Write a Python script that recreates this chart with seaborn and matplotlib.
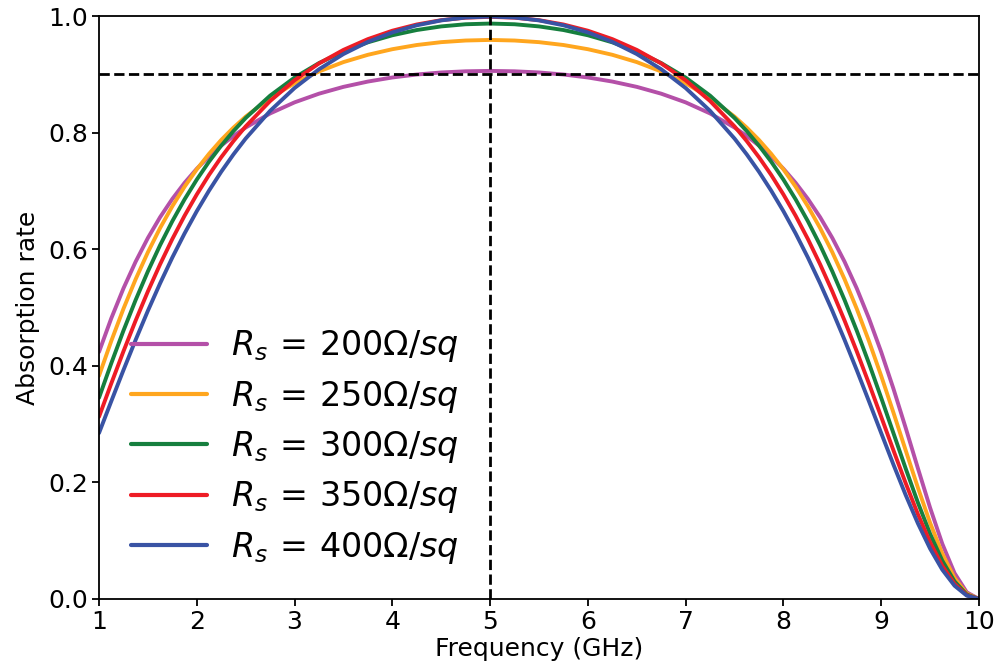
import matplotlib
matplotlib.use("Agg")
import matplotlib.pyplot as plt
import seaborn as sns
import pandas as pd

freq = [1.0, 1.125, 1.25, 1.375, 1.5, 1.625, 1.75, 1.875, 2.0, 2.125, 2.25, 2.375, 2.5,
        2.75, 3.0, 3.25, 3.5, 3.75, 4.0, 4.25, 4.5, 4.75, 5.0, 5.25, 5.5, 5.75, 6.0,
        6.25, 6.5, 6.75, 7.0, 7.25,
        7.5, 7.625, 7.75, 7.875, 8.0, 8.125, 8.25, 8.375, 8.5, 8.625, 8.75, 8.875, 9.0,
        9.125, 9.25, 9.375, 9.5, 9.625, 9.75, 9.875, 10.0]

a_200 = [0.4237, 0.4812, 0.5328, 0.5787, 0.6193, 0.6550, 0.6863, 0.7138, 0.7380, 0.7591, 0.7778, 0.7942, 0.8087,
         0.8329, 0.8519, 0.8668, 0.8785, 0.8876, 0.8946, 0.8997, 0.9032, 0.9052, 0.9059, 0.9052, 0.9032, 0.8997,
         0.8946, 0.8876, 0.8785, 0.8668, 0.8519, 0.8329,
         0.8087, 0.7942, 0.7778, 0.7591, 0.7380, 0.7138, 0.6863, 0.6550, 0.6193, 0.5787, 0.5328, 0.4812, 0.4237,
         0.3608, 0.2937, 0.2244, 0.1565, 0.0946, 0.0444, 0.0115, 0.0]
a_250 = [0.3827, 0.4423, 0.4978, 0.5486, 0.5948, 0.6364, 0.6737, 0.7072, 0.7370, 0.7636, 0.7874, 0.8085, 0.8274,
         0.8593, 0.8847, 0.9049, 0.9210, 0.9335, 0.9431, 0.9503, 0.9552, 0.9580, 0.9590, 0.9580, 0.9552, 0.9503,
         0.9431, 0.9335, 0.9210, 0.9049, 0.8847, 0.8593,
         0.8274, 0.8085, 0.7874, 0.7636, 0.7370, 0.7072, 0.6737, 0.6364, 0.5948, 0.5486, 0.4978, 0.4423, 0.3827,
         0.3198, 0.2552, 0.1911, 0.1307, 0.0777, 0.0360, 0.0092, 0.0]
a_300 = [0.3451, 0.4041, 0.4603, 0.5130, 0.5620, 0.6070, 0.6481, 0.6855, 0.7194, 0.7501, 0.7777, 0.8026, 0.8251,
         0.8634, 0.8944, 0.9193, 0.9392, 0.9549, 0.9670, 0.9760, 0.9822, 0.9859, 0.9871, 0.9859, 0.9822, 0.9760,
         0.9670, 0.9549, 0.9392, 0.9193, 0.8944, 0.8634,
         0.8251, 0.8026, 0.7777, 0.7501, 0.7194, 0.6855, 0.6481, 0.6070, 0.5620, 0.5130, 0.4603, 0.4041, 0.3451,
         0.2846, 0.2240, 0.1655, 0.1118, 0.0657, 0.0302, 0.0077, 0.0]
a_350 = [0.3125, 0.3695, 0.4248, 0.4777, 0.5276, 0.5742, 0.6175, 0.6574, 0.6939, 0.7274, 0.7578, 0.7855, 0.8107,
         0.8542, 0.8898, 0.9187, 0.9419, 0.9604, 0.9748, 0.9855, 0.9929, 0.9972, 0.9986, 0.9972, 0.9929, 0.9855,
         0.9748, 0.9604, 0.9419, 0.9187, 0.8898, 0.8542,
         0.8107, 0.7855, 0.7578, 0.7274, 0.6939, 0.6574, 0.6175, 0.5742, 0.5276, 0.4777, 0.4248, 0.3695, 0.3125,
         0.2551, 0.1989, 0.1456, 0.0975, 0.0569, 0.0260, 0.0066, 0.0]
a_400 = [0.2846, 0.3390, 0.3926, 0.4446, 0.4944, 0.5415, 0.5858, 0.6270, 0.6652, 0.7004, 0.7329, 0.7626, 0.7898,
         0.8373, 0.8765, 0.9087, 0.9348, 0.9557, 0.9719, 0.9841, 0.9925, 0.9975, 0.9991, 0.9975, 0.9925, 0.9841,
         0.9719, 0.9557, 0.9348, 0.9087, 0.8765, 0.8373,
         0.7898, 0.7626, 0.7329, 0.7004, 0.6652, 0.6270, 0.5858, 0.5415, 0.4944, 0.4446, 0.3926, 0.3390, 0.2846,
         0.2306, 0.1785, 0.1298, 0.0864, 0.0502, 0.0228, 0.0058, 0.0]

labels = [r"$R_s\,=\,200\Omega/sq$", r"$R_s\,=\,250\Omega/sq$", r"$R_s\,=\,300\Omega/sq$",
          r"$R_s\,=\,350\Omega/sq$", r"$R_s\,=\,400\Omega/sq$"]
colors = ["#B450A8", "#FFA61E", "#167F3E", "#EE1C25", "#3953A4"]
series = [a_200, a_250, a_300, a_350, a_400]

x_ticks = [1, 2, 3, 4, 5, 6, 7, 8, 9, 10]
y_ticks = [0.0, 0.2, 0.4, 0.6, 0.8, 1.0]
threshold = 0.9
center_freq = 5

rows = []
for lab, vals in zip(labels, series):
    for f, a in zip(freq, vals):
        rows.append({"freq": f, "absorption": a, "Rs": lab})
df = pd.DataFrame(rows)

sns.set_style("ticks")
plt.rcParams["font.family"] = ["DejaVu Sans"]
plt.rcParams["mathtext.fontset"] = "dejavusans"
plt.rcParams["text.color"] = "black"
plt.rcParams["axes.labelcolor"] = "black"
plt.rcParams["xtick.color"] = "black"
plt.rcParams["ytick.color"] = "black"

fig, ax = plt.subplots(figsize=(10.01, 6.68), dpi=100)
fig.subplots_adjust(left=0.0989, right=0.978, top=0.976, bottom=0.1033)

sns.lineplot(data=df, x="freq", y="absorption", hue="Rs", hue_order=labels,
             palette=colors, linewidth=2.8, ax=ax, sort=False)

ax.axhline(threshold, color="black", linestyle="--", linewidth=2)
ax.axvline(center_freq, color="black", linestyle="--", linewidth=2)

ax.set_xlim(1, 10)
ax.set_ylim(0, 1)
ax.set_xticks(x_ticks)
ax.set_xticklabels([str(t) for t in x_ticks])
ax.set_yticks(y_ticks)
ax.set_yticklabels([f"{t:.1f}" for t in y_ticks])
ax.tick_params(axis="both", labelsize=18, direction="out", length=5, width=1.3,
               colors="black", pad=3)
for sp in ax.spines.values():
    sp.set_visible(True)
    sp.set_color("black")
    sp.set_linewidth(1.3)

ax.set_xlabel("Frequency (GHz)", fontsize=18, labelpad=2)
ax.set_ylabel("Absorption rate", fontsize=18, labelpad=6)

leg = ax.legend(loc="lower left", frameon=False, fontsize=24, handlelength=2.28,
                handletextpad=0.72, labelspacing=0.43, borderaxespad=0.0, borderpad=0.0,
                bbox_to_anchor=(0.0364, 0.057))
for line in leg.get_lines():
    line.set_linewidth(3)

fig.savefig("out.png", dpi=100)
